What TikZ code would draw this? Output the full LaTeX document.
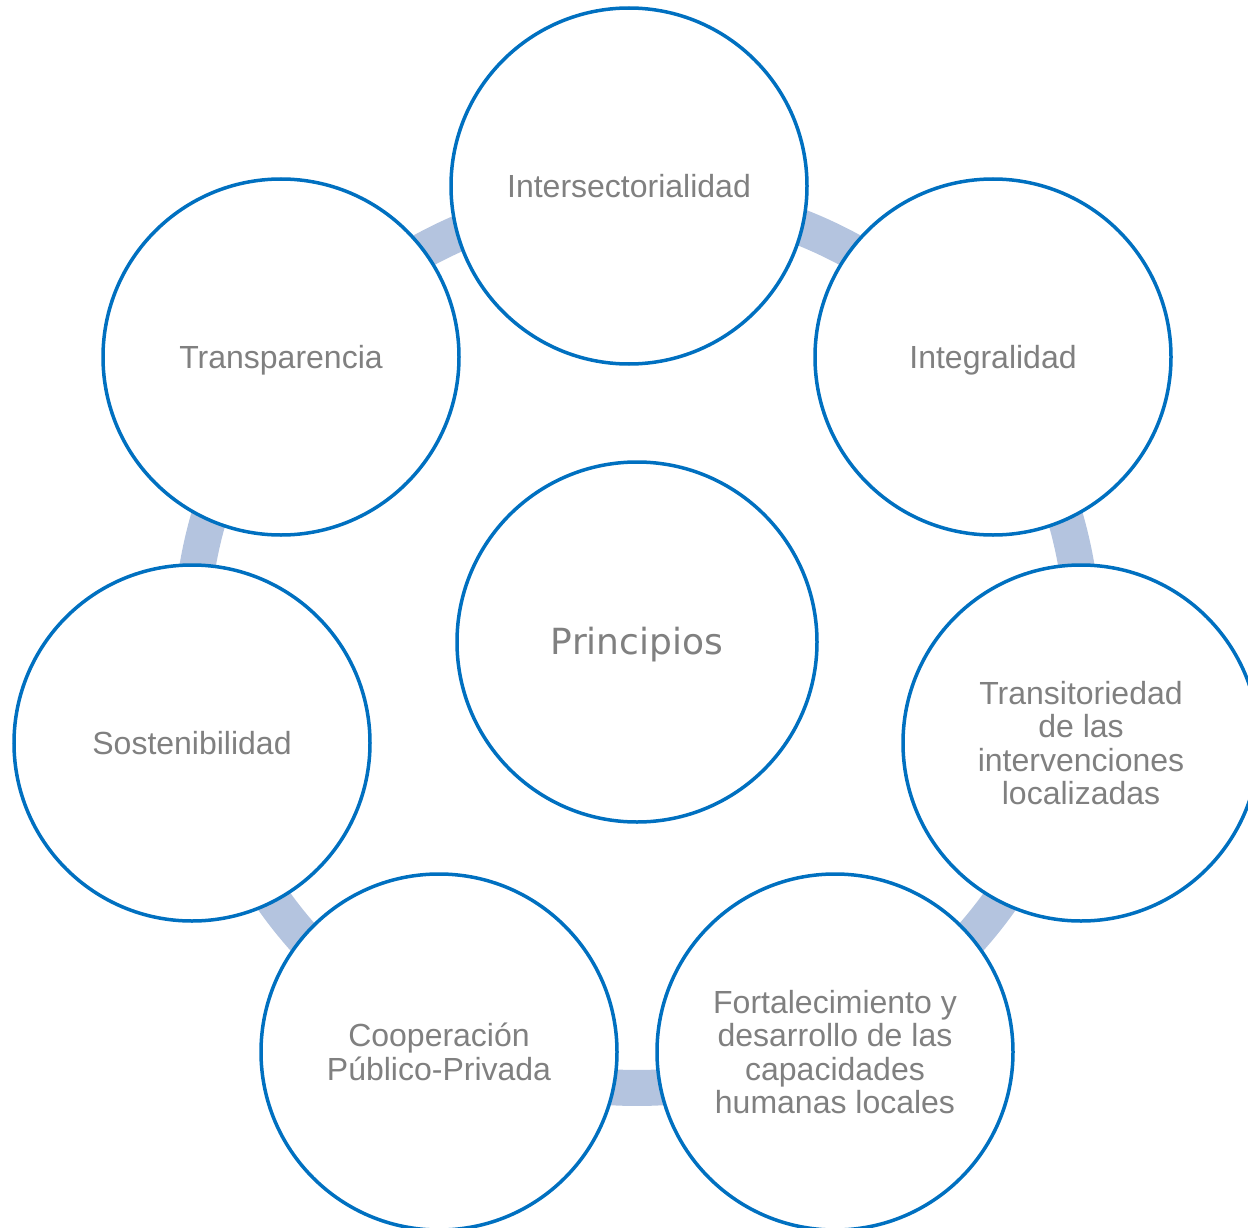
\documentclass[tikz,border=0pt]{standalone}
\usepackage{fontspec}
\setmainfont{Liberation Sans}
\newfontfamily\pfont{DejaVu Sans}
\usetikzlibrary{calc}
\definecolor{ringblue}{RGB}{0,112,192}
\definecolor{bandcol}{RGB}{180,196,223}
\definecolor{txtgray}{RGB}{128,128,128}
\newcommand{\lowr}[1]{\raisebox{-3pt}[\height][\depth]{#1}}
\begin{document}
\begin{tikzpicture}[x=1pt,y=1pt,
  bubble/.style={circle,draw=ringblue,line width=3.5pt,fill=white,minimum size=356pt,inner sep=0pt,
    text=txtgray,align=center,font=\fontsize{32}{33.3}\selectfont},
  hub/.style={circle,draw=ringblue,line width=3.5pt,fill=white,minimum size=360pt,inner sep=0pt,
    text=txtgray,font=\pfont\fontsize{36}{40}\selectfont},
  band/.style={draw=bandcol,line width=36pt}]
\clip (0,0) rectangle (1248,-1228);
\coordinate (ctr) at (637,-642);
% connectors (ring segments)
\draw[band] ($(ctr)+(91:446)$) arc[start angle=91,end angle=38.7,radius=446];
\draw[band] ($(ctr)+(38.7:446)$) arc[start angle=38.7,end angle=-12.8,radius=446];
\draw[band] ($(ctr)+(-12.8:446)$) arc[start angle=-12.8,end angle=-64.2,radius=446];
\draw[band] ($(ctr)+(-64.2:446)$) arc[start angle=-64.2,end angle=-115.8,radius=446];
\draw[band] ($(ctr)+(-115.8:446)$) arc[start angle=-115.8,end angle=-167.2,radius=446];
\draw[band] ($(ctr)+(-167.2:446)$) arc[start angle=-167.2,end angle=-218.7,radius=446];
\draw[band] ($(ctr)+(141.3:446)$) arc[start angle=141.3,end angle=91,radius=446];
% circles
\node[hub] (hub) at (ctr) {\lowr{Principios}};
\node[bubble] (inter) at (629,-186) {Intersectorialidad};
\node[bubble] (integ) at (993,-357) {\lowr{Integralidad}};
\node[bubble] (trans) at (1081,-743) {Transitoriedad\\de las\\intervenciones\\localizadas};
\node[bubble] (fort) at (835,-1052) {Fortalecimiento y\\desarrollo de las\\capacidades\\humanas locales};
\node[bubble] (coop) at (439,-1052) {Cooperación\\Público-Privada};
\node[bubble] (sost) at (192,-743) {Sostenibilidad};
\node[bubble] (transp) at (281,-357) {\lowr{Transparencia}};
\end{tikzpicture}
\end{document}
